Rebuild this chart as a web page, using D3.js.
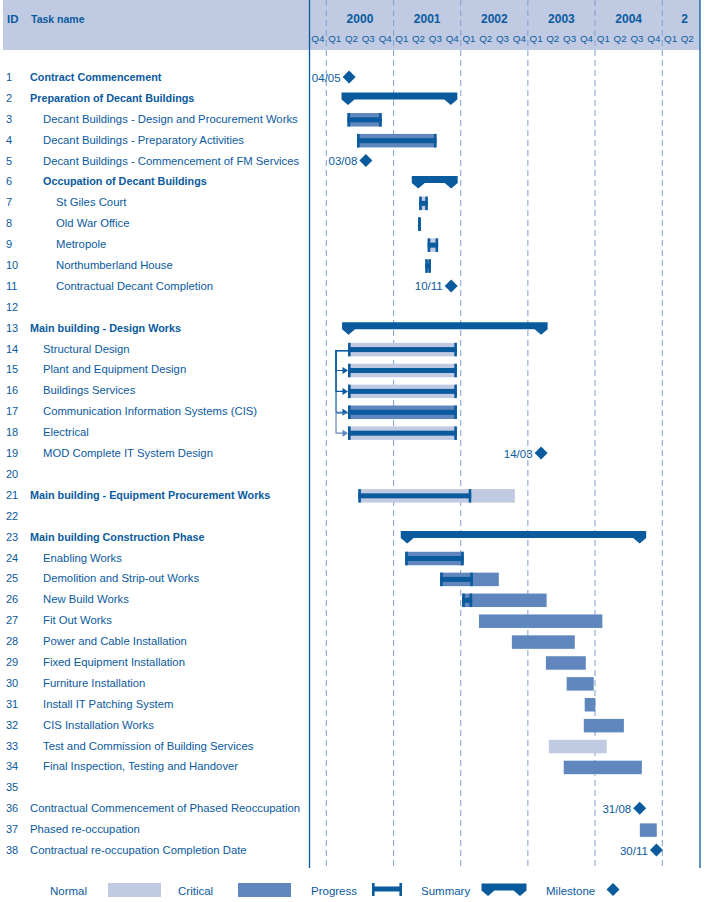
<!DOCTYPE html>
<html><head><meta charset="utf-8">
<script src="https://cdn.jsdelivr.net/npm/d3@7"></script>
<style>
body{margin:0;background:#fff}
svg{display:block}
text{font-family:"Liberation Sans",Arial,sans-serif}
</style>
</head><body>
<svg id="chart" width="705" height="902"></svg>
<script>
// ---------------- DATA ----------------
const taskIds = d3.range(1, 39);
const taskNames = [
  "Contract Commencement",
  "Preparation of Decant Buildings",
  "Decant Buildings - Design and Procurement Works",
  "Decant Buildings - Preparatory Activities",
  "Decant Buildings - Commencement of FM Services",
  "Occupation of Decant Buildings",
  "St Giles Court",
  "Old War Office",
  "Metropole",
  "Northumberland House",
  "Contractual Decant Completion",
  "",
  "Main building - Design Works",
  "Structural Design",
  "Plant and Equipment Design",
  "Buildings Services",
  "Communication Information Systems (CIS)",
  "Electrical",
  "MOD Complete IT System Design",
  "",
  "Main building - Equipment Procurement Works",
  "",
  "Main building Construction Phase",
  "Enabling Works",
  "Demolition and Strip-out Works",
  "New Build Works",
  "Fit Out Works",
  "Power and Cable Installation",
  "Fixed Equipment Installation",
  "Furniture Installation",
  "Install IT Patching System",
  "CIS Installation Works",
  "Test and Commission of Building Services",
  "Final Inspection, Testing and Handover",
  "",
  "Contractual Commencement of Phased Reoccupation",
  "Phased re-occupation",
  "Contractual re-occupation Completion Date"
];
const taskLevel = [0,0,1,1,1,1,2,2,2,2,2,0,0,1,1,1,1,1,1,0,0,0,0,1,1,1,1,1,1,1,1,1,1,1,0,0,0,0];
const taskBold  = [1,1,0,0,0,1,0,0,0,0,0,0,1,0,0,0,0,0,0,0,1,0,1,0,0,0,0,0,0,0,0,0,0,0,0,0,0,0];

const yearLabels = ["2000", "2001", "2002", "2003", "2004", "2"];
const quarterLabels = ["Q4","Q1","Q2","Q3","Q4","Q1","Q2","Q3","Q4","Q1","Q2","Q3","Q4",
                       "Q1","Q2","Q3","Q4","Q1","Q2","Q3","Q4","Q1","Q2"];

const summaries = [
  {row: 2,  start: "2000-04-28", end: "2001-11-08"},
  {row: 6,  start: "2001-05-15", end: "2001-11-10"},
  {row: 13, start: "2000-05-01", end: "2003-03-14"},
  {row: 23, start: "2001-03-16", end: "2004-08-31"}
];

const taskBars = [
  {row: 3,  start: "2000-04-25", end: "2000-10-28", progress: "2000-10-28", critical: true},
  {row: 4,  start: "2000-06-16", end: "2001-08-22", progress: "2001-08-22", critical: true},
  {row: 7,  start: "2001-05-20", end: "2001-07-06", progress: "2001-07-06", critical: false},
  {row: 8,  start: "2001-05-15", end: "2001-05-28", progress: "2001-05-28", critical: true},
  {row: 9,  start: "2001-07-05", end: "2001-08-31", progress: "2001-08-31", critical: false},
  {row: 10, start: "2001-06-22", end: "2001-07-23", progress: "2001-07-23", critical: false},
  {row: 14, start: "2000-04-28", end: "2001-12-11", progress: "2001-12-11", critical: false},
  {row: 15, start: "2000-04-28", end: "2001-12-11", progress: "2001-12-11", critical: false},
  {row: 16, start: "2000-04-28", end: "2001-12-11", progress: "2001-12-11", critical: false},
  {row: 17, start: "2000-04-28", end: "2001-12-11", progress: "2001-12-11", critical: true},
  {row: 18, start: "2000-04-28", end: "2001-12-11", progress: "2001-12-11", critical: false},
  {row: 21, start: "2000-06-23", end: "2002-10-22", progress: "2002-02-27", critical: false},
  {row: 24, start: "2001-03-05", end: "2002-01-17", progress: "2002-01-17", critical: true},
  {row: 25, start: "2001-09-11", end: "2002-07-27", progress: "2002-03-08", critical: true},
  {row: 26, start: "2002-01-09", end: "2003-04-13", progress: "2002-03-04", critical: true},
  {row: 27, start: "2002-04-10", end: "2004-02-10", progress: null, critical: true},
  {row: 28, start: "2002-10-06", end: "2003-09-13", progress: null, critical: true},
  {row: 29, start: "2003-04-09", end: "2003-11-12", progress: null, critical: true},
  {row: 30, start: "2003-07-31", end: "2003-12-25", progress: null, critical: true},
  {row: 31, start: "2003-11-06", end: "2004-01-03", progress: null, critical: true},
  {row: 32, start: "2003-11-01", end: "2004-06-06", progress: null, critical: true},
  {row: 33, start: "2003-04-25", end: "2004-03-05", progress: null, critical: false},
  {row: 34, start: "2003-07-15", end: "2004-09-12", progress: null, critical: true},
  {row: 37, start: "2004-09-01", end: "2004-12-02", progress: null, critical: true}
];

const milestones = [
  {row: 1,  date: "2000-05-04"},
  {row: 5,  date: "2000-08-03"},
  {row: 11, date: "2001-11-10"},
  {row: 19, date: "2003-03-14"},
  {row: 36, date: "2004-08-31"},
  {row: 38, date: "2004-11-30"}
];

const dependencies = [
  {from: 14, to: 15}, {from: 14, to: 16}, {from: 14, to: 17}, {from: 17, to: 18}
];

const legendLabels = ["Normal", "Critical", "Progress", "Summary", "Milestone"];

// ---------------- STYLE ----------------
const C_DARK = "#0a5a9e";
const C_CRIT = "#5f87bd";
const C_NORM = "#c0cbe3";
const C_HEAD = "#c0cbe3";
const C_GRID = "#7f9fd0";

const parse = d3.timeParse("%Y-%m-%d");
const fmt = d3.timeFormat("%d/%m");

const svg = d3.select("#chart");
const chartLeft = 309.5, chartRight = 700, chartBottom = 868;

const x = d3.scaleTime()
  .domain([parse("1999-10-01"), parse("2005-01-01")])
  .range([309.4, 662.3]);

const y = d3.scaleLinear().domain([1, 38]).range([77, 850]);

// header background
svg.append("rect").attr("x", 3).attr("y", 0).attr("width", chartRight - 3).attr("height", 50)
  .attr("fill", C_HEAD);

svg.append("text").attr("x", 7).attr("y", 23).attr("fill", C_DARK)
  .attr("font-size", 11.5).attr("font-weight", "bold").text("ID");
svg.append("text").attr("x", 31).attr("y", 23).attr("fill", C_DARK)
  .attr("font-size", 10.5).attr("font-weight", "bold").text("Task name");

// year and quarter boundaries
const domainEnd = x.invert(chartRight);
const years = d3.timeYear.range(parse("2000-01-01"), domainEnd);
const quarters = d3.timeMonth.every(3).range(parse("1999-10-01"), domainEnd);

svg.append("g").selectAll("line").data(years).join("line")
  .attr("x1", d => x(d)).attr("x2", d => x(d))
  .attr("y1", 0).attr("y2", chartBottom)
  .attr("stroke", C_GRID).attr("stroke-width", 1).attr("stroke-dasharray", "6,4");

// year labels
svg.append("g").selectAll("text").data(years).join("text")
  .attr("x", d => {
    const a = x(d), b = Math.min(x(d3.timeYear.offset(d, 1)), 707);
    return (a + b) / 2;
  })
  .attr("y", 23).attr("text-anchor", "middle").attr("fill", C_DARK)
  .attr("font-size", 12).attr("font-weight", "bold")
  .text((d, i) => yearLabels[i]);

// quarter labels
svg.append("g").selectAll("text").data(quarters).join("text")
  .attr("x", d => (x(d) + x(d3.timeMonth.offset(d, 3))) / 2)
  .attr("y", 41.5).attr("text-anchor", "middle").attr("fill", C_DARK)
  .attr("font-size", 9.8)
  .text((d, i) => quarterLabels[i]);

// frame lines
svg.append("line").attr("x1", chartLeft).attr("x2", chartLeft).attr("y1", 0).attr("y2", chartBottom)
  .attr("stroke", C_DARK).attr("stroke-width", 1.3);
svg.append("line").attr("x1", chartRight).attr("x2", chartRight).attr("y1", 0).attr("y2", chartBottom)
  .attr("stroke", C_DARK).attr("stroke-width", 1.3);

// task ids and names
const rows = svg.append("g");
rows.selectAll("text.id").data(taskIds).join("text").attr("class", "id")
  .attr("x", 6).attr("y", d => y(d) + 4).attr("fill", C_DARK).attr("font-size", 11)
  .text(d => d);
const levelX = [30, 43, 56];
rows.selectAll("text.name").data(taskIds).join("text").attr("class", "name")
  .attr("x", d => levelX[taskLevel[d - 1]]).attr("y", d => y(d) + 4)
  .attr("fill", C_DARK)
  .attr("font-size", d => taskBold[d - 1] ? 10.8 : 11.3)
  .attr("font-weight", d => taskBold[d - 1] ? "bold" : "normal")
  .text(d => taskNames[d - 1]);

// dependency connectors
const depG = svg.append("g");
dependencies.forEach(dep => {
  const src = taskBars.find(t => t.row === dep.from);
  const dst = taskBars.find(t => t.row === dep.to);
  const xs = x(parse(src.start)), xd = x(parse(dst.start));
  const xl = xs - 12;
  const col = dep.from === 17 ? C_CRIT : C_DARK;
  const y0 = y(dep.from) + 2, y1 = y(dep.to) + 1;
  depG.append("path")
    .attr("d", `M${xs},${y0}H${xl}V${y1}H${xd - 4}`)
    .attr("fill", "none").attr("stroke", col).attr("stroke-width", 1.2);
  depG.append("path")
    .attr("d", `M${xd - 5.5},${y1 - 3.5}L${xd},${y1}L${xd - 5.5},${y1 + 3.5}Z`)
    .attr("fill", col);
});

// task bars
const barG = svg.append("g");
const bh = 13.5;
taskBars.forEach(t => {
  const x0 = x(parse(t.start)), x1 = x(parse(t.end));
  const cy = y(t.row) + 1;
  barG.append("rect").attr("x", x0).attr("y", cy - bh / 2).attr("width", Math.max(x1 - x0, 1))
    .attr("height", bh).attr("fill", t.critical ? C_CRIT : C_NORM);
  if (t.progress) {
    const xp = x(parse(t.progress));
    barG.append("rect").attr("x", x0).attr("y", cy - 2.5).attr("width", xp - x0).attr("height", 5)
      .attr("fill", C_DARK);
    barG.append("rect").attr("x", x0).attr("y", cy - bh / 2).attr("width", Math.min(2.6, xp - x0))
      .attr("height", bh).attr("fill", C_DARK);
    barG.append("rect").attr("x", Math.max(xp - 2.6, x0)).attr("y", cy - bh / 2).attr("width", Math.min(2.6, xp - x0))
      .attr("height", bh).attr("fill", C_DARK);
  }
});

// summary bars
function summaryPath(s, e, cy) {
  const top = cy - 5.5, bot = cy + 1.5, tip = cy + 7, w = 6.5;
  return `M${s - w},${top}H${e + w}V${bot}L${e},${tip}L${e - w},${bot}H${s + w}L${s},${tip}L${s - w},${bot}Z`;
}
svg.append("g").selectAll("path").data(summaries).join("path")
  .attr("d", d => summaryPath(x(parse(d.start)), x(parse(d.end)), y(d.row)))
  .attr("fill", C_DARK);

// milestones
const msG = svg.append("g").selectAll("g").data(milestones).join("g")
  .attr("transform", d => `translate(${x(parse(d.date))},${y(d.row)})`);
msG.append("path").attr("d", "M0,-6.5L6.5,0L0,6.5L-6.5,0Z").attr("fill", C_DARK);
msG.append("text").attr("x", -8.5).attr("y", 4.5).attr("text-anchor", "end")
  .attr("fill", C_DARK).attr("font-size", 11.5)
  .text(d => fmt(parse(d.date)));

// legend
const lg = svg.append("g");
const ly = 890;
const legendTextX = [50, 178, 311, 421, 546];
lg.selectAll("text").data(legendLabels).join("text")
  .attr("x", (d, i) => legendTextX[i]).attr("y", ly + 5)
  .attr("fill", C_DARK).attr("font-size", 11.5).text(d => d);
lg.append("rect").attr("x", 108).attr("y", ly - 7).attr("width", 53).attr("height", 14).attr("fill", C_NORM);
lg.append("rect").attr("x", 238).attr("y", ly - 7).attr("width", 53).attr("height", 14).attr("fill", C_CRIT);
lg.append("rect").attr("x", 372).attr("y", ly - 3.5).attr("width", 30).attr("height", 5).attr("fill", C_DARK);
lg.append("rect").attr("x", 372).attr("y", ly - 7).attr("width", 2.6).attr("height", 13).attr("fill", C_DARK);
lg.append("rect").attr("x", 399.4).attr("y", ly - 7).attr("width", 2.6).attr("height", 13).attr("fill", C_DARK);
lg.append("path").attr("d", summaryPath(488, 520, ly - 1)).attr("fill", C_DARK);
lg.append("path").attr("d", `M613,${ly - 7}L619.5,${ly - 0.5}L613,${ly + 6}L606.5,${ly - 0.5}Z`).attr("fill", C_DARK);
</script>
</body></html>
